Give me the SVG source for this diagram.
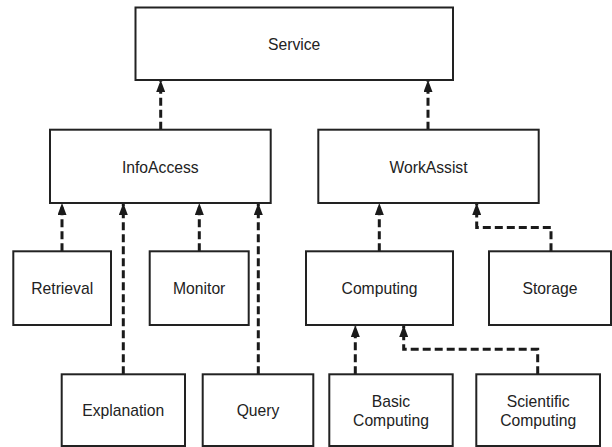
<svg xmlns="http://www.w3.org/2000/svg" width="612" height="447" viewBox="0 0 612 447">
  <style>
    .box { fill: #ffffff; stroke: #222222; stroke-width: 2; }
    .lbl { font-family: "Liberation Sans", Arial, sans-serif; font-size: 15.7px; fill: #222222; text-anchor: middle; }
    .dep { fill: none; stroke: #1a1a1a; stroke-width: 3; stroke-dasharray: 8 4; marker-end: url(#head); }
  </style>
  <defs>
    <marker id="head" viewBox="0 0 12 9" refX="12" refY="4.5" markerWidth="12" markerHeight="9" markerUnits="userSpaceOnUse" orient="auto">
      <path d="M0,0 L12,4.5 L0,9 z" fill="#1a1a1a"/>
    </marker>
  </defs>
  <rect width="612" height="447" fill="#ffffff"/>

  <!-- dependency connectors, each drawn from child up to parent -->
  <g id="connectors">
    <path class="dep" d="M160.7,129.7 V80"/>
    <path class="dep" d="M428,129.7 V80"/>
    <path class="dep" d="M62,251.3 V203"/>
    <path class="dep" d="M123.3,374.3 V203"/>
    <path class="dep" d="M199.3,251.3 V203"/>
    <path class="dep" d="M258.3,374.3 V203"/>
    <path class="dep" d="M379.3,251.3 V203"/>
    <path class="dep" d="M551,251.3 V227.5 H476.7 V203"/>
    <path class="dep" d="M355.3,374.3 V325"/>
    <path class="dep" d="M537.7,374.3 V349.3 H403.7 V325"/>
  </g>

  <g id="service">
    <rect class="box" x="135.5" y="7.5" width="317.5" height="72.5"/>
    <text class="lbl" x="294.2" y="49.5">Service</text>
  </g>
  <g id="infoaccess">
    <rect class="box" x="50" y="129.7" width="220.7" height="73.3"/>
    <text class="lbl" x="160.3" y="172.5">InfoAccess</text>
  </g>
  <g id="workassist">
    <rect class="box" x="318.3" y="129.7" width="220.4" height="73.3"/>
    <text class="lbl" x="428.5" y="172.5">WorkAssist</text>
  </g>
  <g id="retrieval">
    <rect class="box" x="13.3" y="251.3" width="97.7" height="73.7"/>
    <text class="lbl" x="62.2" y="293.5">Retrieval</text>
  </g>
  <g id="monitor">
    <rect class="box" x="149.7" y="251.3" width="99" height="73.7"/>
    <text class="lbl" x="199.2" y="293.5">Monitor</text>
  </g>
  <g id="computing">
    <rect class="box" x="306" y="251.3" width="147" height="73.7"/>
    <text class="lbl" x="379.5" y="293.5">Computing</text>
  </g>
  <g id="storage">
    <rect class="box" x="489" y="251.3" width="122" height="73.7"/>
    <text class="lbl" x="550" y="293.5">Storage</text>
  </g>
  <g id="explanation">
    <rect class="box" x="61.7" y="374.3" width="123.3" height="71.7"/>
    <text class="lbl" x="123.3" y="415.7">Explanation</text>
  </g>
  <g id="query">
    <rect class="box" x="202.7" y="374.3" width="110.6" height="71.7"/>
    <text class="lbl" x="258" y="415.7">Query</text>
  </g>
  <g id="basic-computing">
    <rect class="box" x="329.3" y="374.3" width="123.4" height="71.7"/>
    <text class="lbl" x="391" y="406.5">Basic</text>
    <text class="lbl" x="391" y="426">Computing</text>
  </g>
  <g id="scientific-computing">
    <rect class="box" x="476.3" y="374.3" width="123.7" height="71.7"/>
    <text class="lbl" x="538.2" y="406.5">Scientific</text>
    <text class="lbl" x="538.2" y="426">Computing</text>
  </g>
</svg>
